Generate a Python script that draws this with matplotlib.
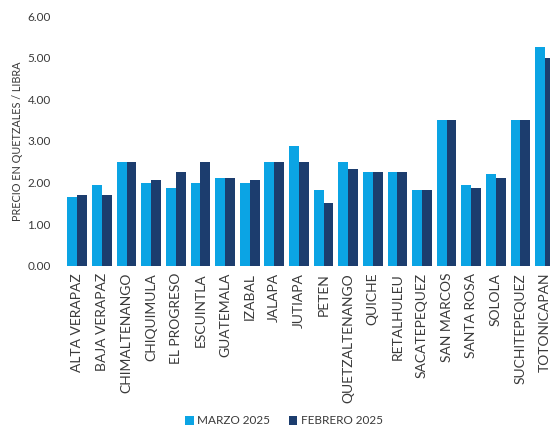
import numpy as np
import matplotlib
matplotlib.use('Agg')
import matplotlib.pyplot as plt

# precios por departamento (Q / libra)
departamentos = ['ALTA VERAPAZ', 'BAJA VERAPAZ', 'CHIMALTENANGO', 'CHIQUIMULA',
                 'EL PROGRESO', 'ESCUINTLA', 'GUATEMALA', 'IZABAL', 'JALAPA',
                 'JUTIAPA', 'PETEN', 'QUETZALTENANGO', 'QUICHE', 'RETALHULEU',
                 'SACATEPEQUEZ', 'SAN MARCOS', 'SANTA ROSA', 'SOLOLA',
                 'SUCHITEPEQUEZ', 'TOTONICAPAN']
marzo_2025 = [1.65, 1.94, 2.50, 2.00, 1.86, 2.00, 2.12, 2.00, 2.50, 2.88,
              1.82, 2.50, 2.25, 2.25, 1.82, 3.50, 1.94, 2.20, 3.50, 5.25]
febrero_2025 = [1.70, 1.70, 2.50, 2.07, 2.26, 2.50, 2.10, 2.07, 2.50, 2.50,
                1.51, 2.32, 2.25, 2.25, 1.82, 3.50, 1.86, 2.12, 3.50, 5.00]

plt.rcParams['font.family'] = ['Lato', 'DejaVu Sans']

fig = plt.figure(figsize=(5.5, 4.29), dpi=100)
ax = fig.add_axes([66 / 550, 0.38, (550 - 66) / 550, 0.9627 - 0.38])

x = np.arange(len(departamentos))
w = 0.4
ax.bar(x - w / 2, marzo_2025, w, color='#0BA4E4', label='MARZO 2025')
ax.bar(x + w / 2, febrero_2025, w, color='#1C3D6E', label='FEBRERO 2025')

ax.set_xlim(-0.46, 19.2)
ax.set_ylim(0, 6)
ax.set_yticks(np.arange(0, 7, 1))
ax.set_yticklabels([f'{v:.2f}' for v in range(7)], fontsize=8.5, color='#3a3a3a')
ax.set_xticks(x)
ax.set_xticklabels(departamentos, rotation=90, fontsize=10, color='#3a3a3a')
ax.tick_params(axis='y', length=0, pad=11)
ax.tick_params(axis='x', length=0, pad=5)
for s in ax.spines.values():
    s.set_visible(False)

ax.set_ylabel('PRECIO EN QUETZALES / LIBRA', fontsize=7.8, color='#3a3a3a', labelpad=3)

fig.legend(loc='center', bbox_to_anchor=(284 / 550, 1 - 421 / 429), ncol=2,
           frameon=False, fontsize=8.5, handlelength=0.7, handleheight=0.7,
           handletextpad=0.3, columnspacing=1.6, labelcolor='#3a3a3a')

fig.savefig('out.png', dpi=100)
